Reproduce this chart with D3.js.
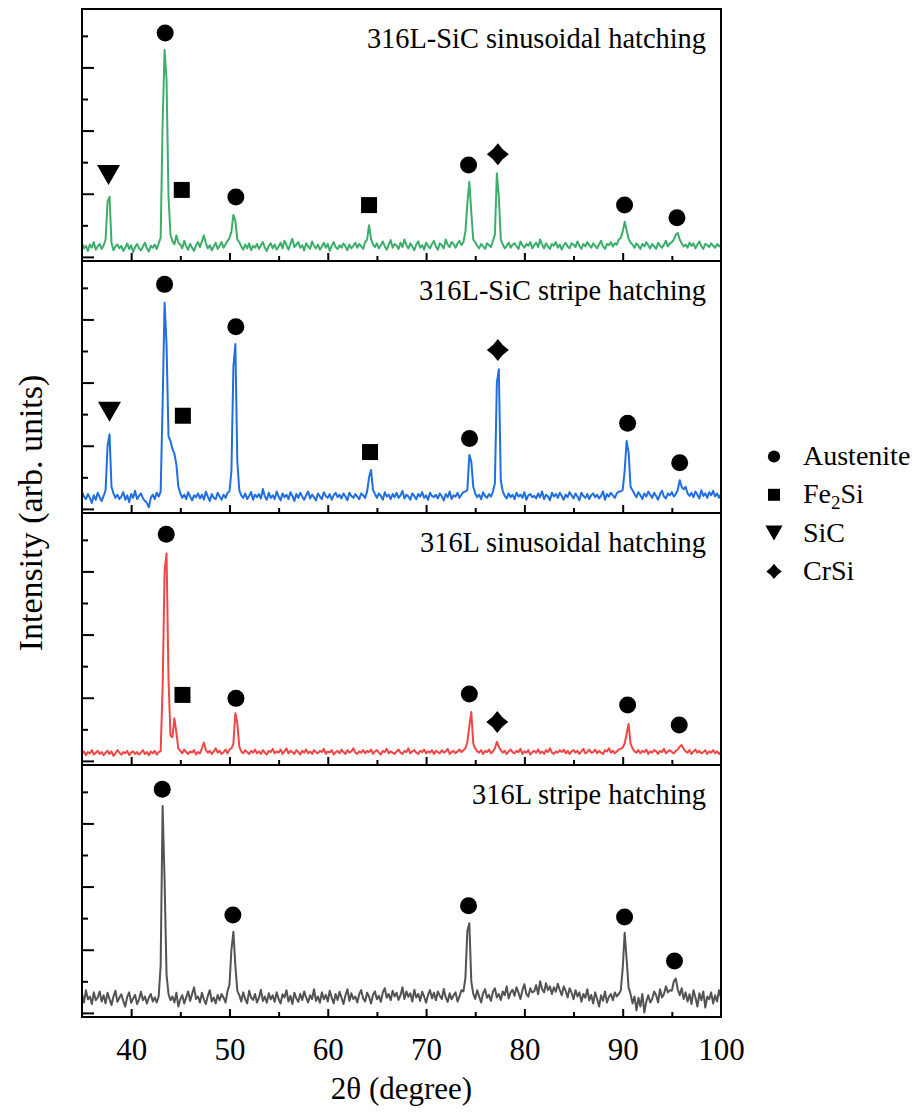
<!DOCTYPE html>
<html>
<head>
<meta charset="utf-8">
<script src="https://cdn.jsdelivr.net/npm/d3@7"></script>
<style>
  html, body { margin: 0; padding: 0; background: #ffffff; }
  svg { display: block; font-family: "Liberation Serif", "Times New Roman", serif; }
</style>
</head>
<body>
<svg id="chart" width="917" height="1112"></svg>
<script>
// ---- XRD scans: 2θ from 35° to 100° in 0.2° steps (326 points each) ----
const scanStart = 35;
const scanStep = 0.2;

// 316L-SiC, sinusoidal hatching
const sicSinusoidal = [
  43, 27, 35, 19, 39, 29, 47, 23, 33, 41,
  25, 37, 55, 175, 190, 45, 21, 33, 39, 27,
  35, 19, 29, 43, 25, 37, 15, 31, 41, 27,
  21, 33, 45, 27, 17, 35, 29, 39, 25, 43,
  60, 420, 655, 560, 190, 70, 50, 40, 68, 45,
  39, 27, 51, 33, 23, 41, 29, 19, 37, 47,
  31, 49, 68, 43, 27, 37, 21, 33, 45, 25,
  35, 47, 29, 39, 50, 60, 80, 133, 115, 55,
  47, 33, 23, 39, 27, 43, 21, 35, 29, 41,
  25, 37, 47, 29, 19, 35, 43, 27, 39, 23,
  33, 45, 27, 51, 37, 23, 41, 57, 31, 39,
  47, 29, 37, 21, 43, 33, 25, 49, 35, 27,
  39, 23, 33, 45, 29, 41, 19, 35, 47, 31,
  25, 37, 29, 43, 33, 21, 39, 27, 35, 45,
  29, 41, 33, 25, 47, 55, 100, 58, 39, 31,
  43, 27, 37, 49, 33, 23, 39, 53, 29, 41,
  35, 25, 45, 31, 55, 37, 27, 43, 33, 21,
  39, 49, 29, 37, 23, 45, 35, 27, 41, 51,
  33, 23, 43, 37, 27, 55, 39, 31, 47, 41,
  29, 43, 51, 37, 47, 80, 170, 238, 140, 55,
  47, 35, 27, 41, 33, 25, 43, 37, 31, 51,
  70, 265, 190, 55, 39, 27, 35, 45, 29, 39,
  43, 33, 25, 49, 37, 29, 41, 35, 47, 27,
  37, 45, 31, 55, 39, 27, 43, 33, 25, 41,
  35, 47, 29, 39, 23, 37, 45, 33, 27, 43,
  39, 31, 49, 35, 25, 41, 33, 47, 37, 29,
  43, 35, 27, 39, 51, 33, 25, 41, 37, 47,
  33, 43, 39, 55, 60, 80, 111, 85, 58, 45,
  39, 29, 43, 35, 25, 41, 33, 47, 37, 27,
  41, 33, 25, 45, 35, 29, 39, 51, 33, 43,
  47, 55, 70, 76, 55, 43, 33, 39, 29, 45,
  35, 43, 27, 39, 49, 33, 25, 41, 37, 31,
  43, 35, 29, 41, 33, 39
];

// 316L-SiC, stripe hatching
const sicStripe = [
  55, 39, 31, 47, 35, 19, 43, 29, 51, 37,
  25, 41, 60, 200, 236, 70, 49, 35, 45, 31,
  39, 53, 29, 43, 21, 47, 35, 57, 31, 41,
  49, 33, 25, 19, 5, 35, 45, 31, 51, 39,
  55, 330, 653, 520, 230, 215, 190, 175, 140, 70,
  49, 35, 45, 31, 53, 39, 27, 43, 37, 49,
  33, 45, 29, 55, 39, 25, 47, 35, 31, 51,
  39, 29, 45, 35, 51, 55, 120, 450, 522, 150,
  59, 43, 35, 49, 31, 41, 53, 29, 45, 37,
  47, 33, 63, 39, 29, 51, 35, 43, 31, 55,
  39, 27, 49, 37, 45, 31, 53, 41, 25, 47,
  35, 51, 39, 29, 43, 55, 33, 45, 37, 27,
  49, 39, 31, 53, 41, 35, 47, 29, 43, 51,
  37, 45, 33, 49, 39, 27, 51, 41, 35, 47,
  39, 31, 49, 43, 35, 55, 100, 123, 60, 47,
  35, 49, 41, 29, 53, 39, 45, 31, 47, 37,
  51, 35, 43, 57, 33, 45, 39, 29, 49, 41,
  31, 47, 39, 53, 35, 43, 29, 51, 41, 37,
  45, 33, 49, 39, 27, 47, 37, 55, 31, 43,
  39, 51, 35, 45, 53, 55, 60, 171, 150, 70,
  49, 37, 45, 31, 53, 41, 35, 47, 39, 55,
  80, 400, 442, 90, 55, 41, 33, 49, 37, 45,
  31, 51, 39, 45, 35, 53, 29, 43, 47, 37,
  41, 33, 49, 37, 55, 31, 45, 39, 27, 51,
  39, 47, 35, 51, 41, 29, 45, 37, 53, 43,
  33, 49, 39, 27, 51, 41, 35, 47, 31, 43,
  49, 37, 45, 33, 41, 55, 29, 47, 39, 51,
  43, 35, 49, 55, 55, 60, 120, 215, 180, 70,
  59, 47, 37, 53, 43, 31, 49, 39, 55, 45,
  35, 51, 41, 29, 47, 57, 39, 33, 49, 43,
  53, 39, 47, 60, 91, 70, 62, 70, 49, 41,
  51, 37, 55, 45, 33, 59, 41, 49, 35, 53,
  43, 57, 39, 49, 35, 47
];

// 316L, sinusoidal hatching
const ssSinusoidal = [
  22, 30, 18, 28, 24, 34, 20, 26, 32, 22,
  28, 18, 26, 32, 22, 30, 16, 24, 34, 26,
  20, 28, 24, 32, 18, 26, 30, 22, 28, 20,
  26, 34, 22, 28, 18, 30, 24, 32, 20, 28,
  30, 230, 600, 657, 260, 80, 75, 135, 90, 40,
  32, 24, 36, 28, 22, 30, 26, 34, 20, 28,
  24, 40, 58, 34, 26, 32, 22, 30, 40, 26,
  32, 22, 28, 36, 24, 36, 40, 55, 151, 120,
  45, 30, 24, 34, 28, 22, 32, 26, 36, 24,
  30, 22, 34, 26, 20, 32, 28, 38, 24, 30,
  26, 36, 22, 30, 40, 24, 32, 28, 22, 34,
  28, 20, 32, 26, 36, 24, 30, 22, 34, 28,
  24, 32, 28, 38, 22, 30, 26, 34, 20, 28,
  32, 24, 36, 28, 22, 34, 26, 30, 40, 26,
  22, 30, 26, 34, 24, 32, 28, 36, 22, 30,
  34, 26, 20, 32, 28, 38, 24, 30, 26, 22,
  30, 36, 26, 22, 32, 28, 40, 24, 30, 34,
  26, 22, 32, 28, 36, 24, 30, 26, 34, 22,
  32, 28, 24, 34, 26, 30, 38, 22, 28, 32,
  24, 30, 36, 28, 34, 40, 60, 110, 155, 55,
  40, 30, 26, 34, 22, 32, 28, 36, 24, 30,
  40, 60, 45, 34, 26, 32, 22, 30, 36, 28,
  24, 32, 28, 38, 22, 30, 26, 34, 20, 28,
  32, 26, 36, 24, 30, 22, 34, 28, 40, 26,
  22, 30, 26, 34, 28, 36, 24, 32, 22, 30,
  34, 26, 32, 22, 30, 38, 24, 28, 36, 26,
  28, 36, 24, 32, 26, 22, 34, 30, 40, 26,
  32, 24, 30, 36, 38, 42, 55, 85, 117, 55,
  40, 30, 26, 34, 24, 32, 28, 36, 22, 30,
  26, 34, 30, 22, 32, 28, 38, 24, 30, 34,
  28, 24, 32, 36, 45, 50, 38, 30, 26, 34,
  22, 30, 36, 26, 32, 24, 28, 34, 22, 30,
  26, 34, 24, 30, 22, 28
];

// 316L, stripe hatching
const ssStripe = [
  60, 33, 72, 43, 52, 28, 65, 40, 49, 68,
  36, 56, 30, 64, 44, 25, 52, 70, 35, 48,
  59, 38, 20, 51, 65, 32, 46, 57, 28, 43,
  67, 40, 52, 30, 48, 60, 36, 49, 33, 52,
  150, 655, 420, 120, 60, 40, 52, 33, 64, 20,
  43, 56, 30, 49, 68, 38, 60, 81, 44, 52,
  33, 64, 43, 28, 54, 72, 36, 49, 30, 57,
  40, 60, 48, 33, 68, 90, 200, 257, 150, 70,
  56, 36, 65, 44, 30, 70, 49, 41, 60, 33,
  48, 73, 38, 52, 32, 62, 43, 56, 35, 65,
  44, 30, 59, 49, 72, 36, 54, 28, 64, 46,
  35, 60, 41, 68, 48, 33, 56, 44, 75, 38,
  52, 32, 65, 43, 57, 36, 70, 49, 30, 60,
  41, 67, 48, 28, 56, 75, 38, 62, 44, 52,
  33, 59, 72, 46, 36, 64, 51, 30, 57, 68,
  43, 54, 35, 65, 78, 48, 60, 40, 70, 52,
  64, 41, 56, 81, 44, 68, 51, 62, 36, 73,
  49, 60, 38, 67, 52, 32, 57, 72, 46, 64,
  40, 68, 54, 44, 76, 49, 35, 62, 43, 56,
  65, 36, 52, 72, 68, 110, 260, 284, 100, 60,
  44, 72, 52, 33, 62, 75, 48, 57, 38, 67,
  78, 49, 60, 41, 68, 56, 84, 46, 65, 73,
  54, 81, 64, 44, 72, 91, 60, 51, 78, 65,
  68, 88, 59, 100, 76, 65, 94, 72, 84, 60,
  81, 67, 92, 73, 56, 84, 70, 49, 78, 64,
  43, 72, 52, 65, 35, 60, 48, 75, 40, 57,
  30, 65, 44, 20, 56, 38, 68, 33, 51, 60,
  40, 65, 52, 60, 70, 140, 254, 170, 80, 60,
  30, 52, 8, 48, 20, 60, 1, 36, 56, 33,
  44, 68, 56, 33, 75, 49, 60, 84, 65, 72,
  70, 100, 109, 75, 56, 78, 44, 65, 36, 59,
  28, 72, 49, 20, 62, 40, 68, 17, 52, 43,
  65, 30, 56, 36, 72, 48
];

// ---- phase identification marks: [phase, 2θ, intensity level] ----
const sicSinusoidalMarks = [
  ["SiC", 37.7, 259], ["Austenite", 43.46, 709], ["Fe2Si", 45.15, 212],
  ["Austenite", 50.65, 190], ["Fe2Si", 64.2, 164], ["Austenite", 74.32, 291],
  ["CrSi", 77.3, 325], ["Austenite", 90.19, 164], ["Austenite", 95.52, 124]
];
const sicStripeMarks = [
  ["SiC", 37.8, 308], ["Austenite", 43.4, 711], ["Fe2Si", 45.26, 295],
  ["Austenite", 50.65, 577], ["Fe2Si", 64.3, 180], ["Austenite", 74.42, 223],
  ["CrSi", 77.3, 503], ["Austenite", 90.5, 271], ["Austenite", 95.8, 146]
];
const ssSinusoidalMarks = [
  ["Austenite", 43.57, 718], ["Fe2Si", 45.22, 209], ["Austenite", 50.66, 198],
  ["Austenite", 74.4, 212], ["CrSi", 77.24, 123], ["Austenite", 90.5, 177],
  ["Austenite", 95.75, 114]
];
const ssStripeMarks = [
  ["Austenite", 43.16, 708], ["Austenite", 50.35, 310], ["Austenite", 74.32, 339],
  ["Austenite", 90.19, 304], ["Austenite", 95.27, 164]
];

// ---- panel titles, legend entries, axis ticks ----
const panelTitles = [
  "316L-SiC sinusoidal hatching",
  "316L-SiC stripe hatching",
  "316L sinusoidal hatching",
  "316L stripe hatching"
];
const phaseNames = ["Austenite", "Fe2Si", "SiC", "CrSi"];
const xMajorTicks = [40, 50, 60, 70, 80, 90];
const xMinorTicks = [45, 55, 65, 75, 85, 95];
const xTickLabels = [40, 50, 60, 70, 80, 90, 100];
const yMajorTicks = [0, 200, 400, 600];
const yMinorTicks = [100, 300, 500, 700];

// ---- drawing ----
const scans = [sicSinusoidal, sicStripe, ssSinusoidal, ssStripe];
const marks = [sicSinusoidalMarks, sicStripeMarks, ssSinusoidalMarks, ssStripeMarks];
const traceColors = ["#3cae6c", "#1f6fe0", "#f04646", "#535353"];

const svg = d3.select("#chart");
const plotLeft = 82, plotRight = 721, plotTop = 9, panelHeight = 252;

const x = d3.scaleLinear().domain([35, 100]).range([plotLeft, plotRight]);

// glyphs for the phase marks, centred on their bounding box
function glyph(phase, s) {
  switch (phase) {
    case "Austenite": {
      const r = 8.5 * s;
      return `M${-r},0A${r},${r} 0 1,0 ${r},0A${r},${r} 0 1,0 ${-r},0Z`;
    }
    case "Fe2Si": {
      const h = 8 * s;
      return `M${-h},${-h}H${h}V${h}H${-h}Z`;
    }
    case "SiC": {
      const w = 11.5 * s, h = 10 * s;
      return `M${-w},${-h}L${w},${-h}L0,${h}Z`;
    }
    case "CrSi": {
      const d = 11 * s, c = 4.4 * s;
      return `M0,${-d}Q${c},${-c} ${d},0Q${c},${c} 0,${d}Q${-c},${c} ${-d},0Q${-c},${-c} 0,${-d}Z`;
    }
  }
}

scans.forEach((scan, p) => {
  const top = plotTop + p * panelHeight;
  const bottom = top + panelHeight;
  const y = d3.scaleLinear().domain([-13, 785]).range([bottom, top]);
  const g = svg.append("g");

  // diffraction trace
  const line = d3.line()
    .x((d, i) => x(scanStart + i * scanStep))
    .y(d => y(d));
  g.append("path")
    .datum(scan)
    .attr("d", line)
    .attr("fill", "none")
    .attr("stroke", traceColors[p])
    .attr("stroke-width", 2)
    .attr("stroke-linejoin", "round");

  // inward ticks on the bottom and left edges
  const axisStyle = sel => {
    sel.select(".domain").remove();
    sel.selectAll(".tick line").attr("stroke", "#000").attr("stroke-width", 2);
  };
  g.append("g").attr("transform", `translate(0,${bottom})`)
    .call(d3.axisBottom(x).tickValues(xMajorTicks).tickSize(-8).tickFormat(""))
    .call(axisStyle);
  g.append("g").attr("transform", `translate(0,${bottom})`)
    .call(d3.axisBottom(x).tickValues(xMinorTicks).tickSize(-5).tickFormat(""))
    .call(axisStyle);
  g.append("g").attr("transform", `translate(${plotLeft},0)`)
    .call(d3.axisLeft(y).tickValues(yMajorTicks).tickSize(-12).tickFormat(""))
    .call(axisStyle);
  g.append("g").attr("transform", `translate(${plotLeft},0)`)
    .call(d3.axisLeft(y).tickValues(yMinorTicks).tickSize(-6).tickFormat(""))
    .call(axisStyle);

  // panel frame
  g.append("rect")
    .attr("x", plotLeft).attr("y", top)
    .attr("width", plotRight - plotLeft).attr("height", panelHeight)
    .attr("fill", "none").attr("stroke", "#000").attr("stroke-width", 2);

  // phase marks
  g.selectAll("path.mark")
    .data(marks[p])
    .join("path")
    .attr("class", "mark")
    .attr("transform", d => `translate(${x(d[1])},${y(d[2])})`)
    .attr("d", d => glyph(d[0], 1))
    .attr("fill", "#000");

  // panel title
  g.append("text")
    .attr("x", 706).attr("y", top + 39)
    .attr("text-anchor", "end")
    .attr("font-size", 28.4)
    .attr("fill", "#000")
    .text(panelTitles[p]);

  // numbered 2θ axis under the last panel
  if (p === scans.length - 1) {
    const ax = g.append("g").attr("transform", `translate(0,${bottom})`)
      .call(d3.axisBottom(x).tickValues(xTickLabels).tickSize(0).tickPadding(21).tickFormat(d3.format("d")));
    ax.select(".domain").remove();
    ax.selectAll("text")
      .attr("font-family", "Liberation Serif, Times New Roman, serif")
      .attr("font-size", 31)
      .attr("fill", "#000");
  }
});

// axis titles
svg.append("text")
  .attr("x", (plotLeft + plotRight) / 2).attr("y", 1099)
  .attr("text-anchor", "middle")
  .attr("font-size", 31)
  .text("2θ (degree)");

svg.append("text")
  .attr("transform", `translate(42,${plotTop + 2 * panelHeight}) rotate(-90)`)
  .attr("text-anchor", "middle")
  .attr("font-size", 34)
  .text("Intensity (arb. units)");

// phase legend
const legend = svg.append("g").attr("transform", "translate(774,465)");
phaseNames.forEach((name, i) => {
  const row = legend.append("g").attr("transform", `translate(0,${i * 38.3})`);
  row.append("path")
    .attr("transform", "translate(0,-8.5)")
    .attr("d", glyph(name, name === "Austenite" ? 0.72 : name === "CrSi" ? 0.7 : 0.75))
    .attr("fill", "#000");
  const t = row.append("text").attr("x", 29).attr("y", 0).attr("font-size", 28);
  if (name === "Fe2Si") {
    t.append("tspan").text("Fe");
    t.append("tspan").attr("dy", 6).attr("font-size", 19).text("2");
    t.append("tspan").attr("dy", -6).text("Si");
  } else {
    t.text(name);
  }
});
</script>
</body>
</html>
